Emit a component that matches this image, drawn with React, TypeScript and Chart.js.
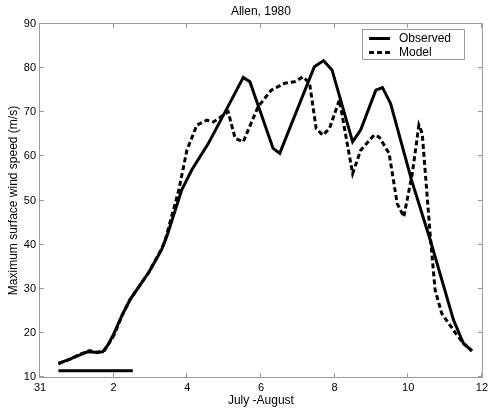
import { useEffect, useRef } from 'react';
import { Chart, registerables } from 'chart.js';

Chart.register(...registerables);

// Days counted from 31 July (0 = 31 Jul, 2 = 2 Aug, ...)
const observedDays = [0.5, 0.8, 1.05, 1.29, 1.5, 1.7, 1.85, 2.01, 2.23, 2.45, 2.96, 3.3, 3.45, 3.85, 4.12, 4.57, 5.2, 5.52, 5.7, 6.33, 6.51, 7.45, 7.7, 7.93, 8.49, 8.71, 9.12, 9.3, 9.52, 10.09, 10.6, 11.23, 11.5, 11.73];
const observedSpeed = [13.1, 14.0, 14.9, 15.7, 15.6, 15.7, 17.3, 19.9, 24.0, 27.6, 33.8, 38.8, 42.0, 52.4, 56.9, 62.9, 72.8, 77.9, 76.9, 61.8, 60.7, 80.3, 81.7, 79.6, 63.3, 66.0, 75.0, 75.6, 72.0, 54.6, 41.0, 22.9, 17.6, 15.9];

const modelDays = [0.5, 0.8, 1.05, 1.35, 1.55, 1.75, 2.01, 2.23, 2.45, 2.96, 3.3, 3.4, 3.77, 3.99, 4.26, 4.53, 4.71, 5.11, 5.3, 5.52, 5.92, 6.28, 6.65, 6.91, 7.14, 7.32, 7.5, 7.68, 7.86, 8.13, 8.49, 8.71, 9.07, 9.21, 9.48, 9.7, 9.88, 10.11, 10.29, 10.38, 10.6, 10.73, 10.91, 11.29, 11.5, 11.73];
const modelSpeed = [13.0, 14.0, 15.0, 16.0, 15.5, 16.0, 19.5, 24.0, 27.6, 33.8, 39.0, 41.0, 52.4, 61.4, 67.1, 68.2, 67.8, 70.1, 64.1, 63.3, 71.2, 75.0, 76.6, 76.9, 78.0, 76.6, 66.3, 64.8, 66.3, 72.8, 56.1, 61.4, 64.8, 64.4, 60.7, 49.3, 46.3, 56.1, 67.1, 65.2, 41.8, 29.7, 24.4, 19.9, 17.6, 15.9];

// Horizontal reference bar near the bottom of the plot
const barDays = [0.5, 2.52];
const barLevel = [11.4, 11.4];

const xTickValues = [0, 2, 4, 6, 8, 10, 12];
const xTickLabels = ['31', '2', '4', '6', '8', '10', '12'];
const yTickValues = [10, 20, 30, 40, 50, 60, 70, 80, 90];

const titleText = 'Allen, 1980';
const xTitleText = 'July -August';
const yTitleText = 'Maximum surface wind speed (m/s)';
const legendLabels = ['Observed', 'Model'];

const FONT = '"Liberation Sans", Arial, Helvetica, sans-serif';
const AXIS_GRAY = '#9a9a9a';

const toPoints = (xs: number[], ys: number[]) => xs.map((x, i) => ({ x, y: ys[i] }));

const framePlugin = {
  id: 'frame',
  afterDatasetsDraw(chart: any) {
    const { ctx, chartArea, scales } = chart;
    const { left, right, top, bottom } = chartArea;
    const xs = scales.x;
    const ys = scales.y;
    ctx.save();

    // axes box
    ctx.strokeStyle = AXIS_GRAY;
    ctx.lineWidth = 1;
    ctx.strokeRect(left - 0.5, top - 0.5, right - left + 1, bottom - top + 1);

    // inward tick marks on all four sides
    const tl = 4;
    ctx.beginPath();
    xTickValues.forEach((v) => {
      const px = Math.round(xs.getPixelForValue(v)) - 0.5;
      ctx.moveTo(px, bottom);
      ctx.lineTo(px, bottom - tl);
      ctx.moveTo(px, top);
      ctx.lineTo(px, top + tl);
    });
    yTickValues.forEach((v) => {
      const py = Math.round(ys.getPixelForValue(v)) - 0.5;
      ctx.moveTo(left, py);
      ctx.lineTo(left + tl, py);
      ctx.moveTo(right, py);
      ctx.lineTo(right - tl, py);
    });
    ctx.stroke();

    // titles
    ctx.fillStyle = '#000';
    ctx.font = `12px ${FONT}`;
    ctx.textAlign = 'center';
    ctx.textBaseline = 'middle';
    ctx.fillText(titleText, (left + right) / 2, 12);
    ctx.fillText(xTitleText, (left + right) / 2, 401);
    ctx.save();
    ctx.translate(14, (top + bottom) / 2);
    ctx.rotate(-Math.PI / 2);
    ctx.fillText(yTitleText, 0, 0);
    ctx.restore();

    // legend
    const bx = 362.5, by = 29.5, bw = 102, bh = 30;
    ctx.fillStyle = '#fff';
    ctx.fillRect(bx, by, bw, bh);
    ctx.strokeStyle = AXIS_GRAY;
    ctx.strokeRect(bx, by, bw, bh);
    const rows = [38.5, 52.5];
    const dashes = [[], [5, 3]];
    rows.forEach((ry, i) => {
      ctx.strokeStyle = '#000';
      ctx.lineWidth = 3;
      ctx.setLineDash(dashes[i]);
      ctx.beginPath();
      ctx.moveTo(369, ry);
      ctx.lineTo(390, ry);
      ctx.stroke();
      ctx.setLineDash([]);
      ctx.fillStyle = '#000';
      ctx.font = `12px ${FONT}`;
      ctx.textAlign = 'left';
      ctx.textBaseline = 'middle';
      ctx.fillText(legendLabels[i], 399, ry);
    });

    ctx.restore();
  },
};

export default function App() {
  const canvasRef = useRef<HTMLCanvasElement | null>(null);

  useEffect(() => {
    document.body.style.margin = '0';
    const canvas = canvasRef.current;
    if (!canvas) return;
    const chart = new Chart(canvas, {
      type: 'line',
      data: {
        datasets: [
          {
            label: legendLabels[0],
            data: toPoints(observedDays, observedSpeed),
            borderColor: '#000',
            borderWidth: 3,
            pointRadius: 0,
            tension: 0,
            fill: false,
          },
          {
            label: legendLabels[1],
            data: toPoints(modelDays, modelSpeed),
            borderColor: '#000',
            borderWidth: 3,
            borderDash: [5, 3],
            pointRadius: 0,
            tension: 0,
            fill: false,
          },
          {
            label: 'bar',
            data: toPoints(barDays, barLevel),
            borderColor: '#000',
            borderWidth: 3,
            pointRadius: 0,
            fill: false,
          },
        ],
      },
      options: {
        animation: false,
        responsive: false,
        devicePixelRatio: 1,
        layout: { padding: { top: 24, right: 7, left: 0, bottom: 0 } },
        plugins: {
          legend: { display: false },
          title: { display: false },
          tooltip: { enabled: false },
        },
        scales: {
          x: {
            type: 'linear',
            min: 0,
            max: 12,
            grid: { display: false, drawTicks: false, tickLength: 0 },
            border: { display: false },
            afterFit: (s: any) => { s.height = 33; },
            afterBuildTicks: (s: any) => { s.ticks = xTickValues.map((v) => ({ value: v })); },
            ticks: {
              padding: 4,
              maxRotation: 0,
              autoSkip: false,
              color: '#000',
              font: { family: FONT, size: 11 },
              callback: (v: any) => {
                const i = xTickValues.indexOf(Number(v));
                return i >= 0 ? xTickLabels[i] : '';
              },
            },
          },
          y: {
            type: 'linear',
            min: 10,
            max: 90,
            grid: { display: false, drawTicks: false, tickLength: 0 },
            border: { display: false },
            afterFit: (s: any) => { s.width = 40; },
            afterBuildTicks: (s: any) => { s.ticks = yTickValues.map((v) => ({ value: v })); },
            ticks: {
              padding: 4,
              autoSkip: false,
              color: '#000',
              font: { family: FONT, size: 11 },
            },
          },
        },
      },
      plugins: [framePlugin],
    });
    return () => chart.destroy();
  }, []);

  return <canvas ref={canvasRef} width={492} height={410} style={{ display: 'block' }} />;
}
